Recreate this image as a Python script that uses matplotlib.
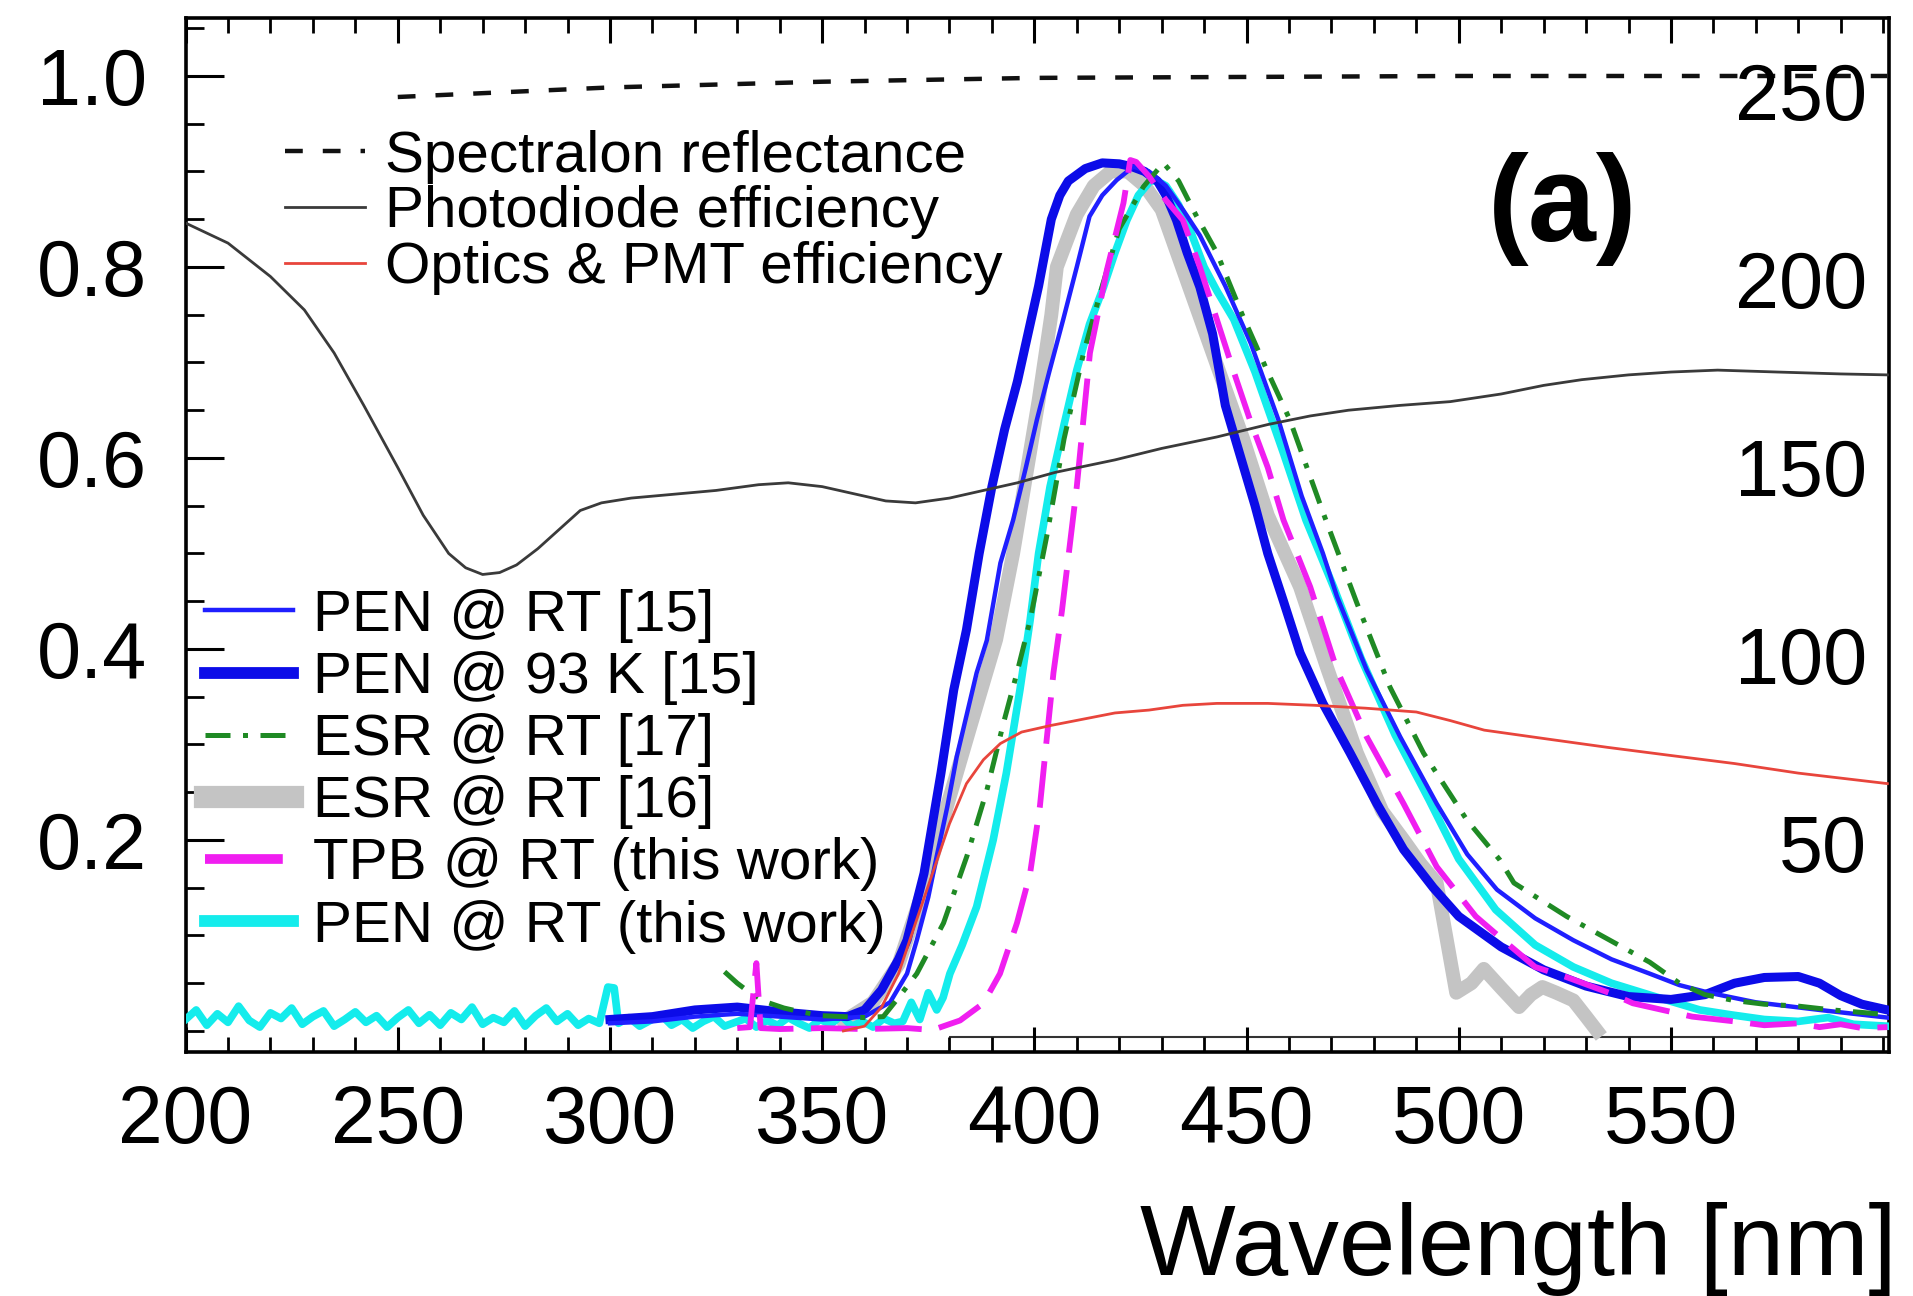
import matplotlib
matplotlib.use("Agg")
import matplotlib.pyplot as plt
from matplotlib.ticker import FixedLocator, MultipleLocator

plt.rcParams['font.family'] = ['Liberation Sans', 'DejaVu Sans']

# ---- reference curves ----
spectralon_wl = [250, 275, 300, 325, 350, 375, 400, 450, 500, 550, 601]
spectralon = [0.978, 0.983, 0.988, 0.991, 0.994, 0.996, 0.998, 0.999, 1.0, 1.0, 1.0]

photodiode_wl = [200, 210, 220, 228, 235, 242, 250, 256, 262, 266, 270, 274, 278,
                 283, 288, 293, 298, 305, 315, 325, 335, 342, 350, 358, 365, 372,
                 380, 390, 396, 405, 419, 430, 443, 455, 465, 474, 486, 498, 510,
                 520, 529, 540, 550, 561, 575, 590, 601]
photodiode = [0.846, 0.825, 0.79, 0.755, 0.71, 0.655, 0.59, 0.54, 0.50, 0.485, 0.478,
              0.48, 0.488, 0.505, 0.525, 0.545, 0.553, 0.558, 0.562, 0.566, 0.572,
              0.574, 0.57, 0.562, 0.555, 0.553, 0.558, 0.568, 0.574, 0.585, 0.598,
              0.61, 0.622, 0.635, 0.644, 0.65, 0.655, 0.659, 0.667, 0.676, 0.682,
              0.687, 0.69, 0.692, 0.69, 0.688, 0.687]

optics_wl = [355, 360, 364, 368, 372, 376, 380, 384, 388, 392, 397, 404, 419, 427,
             435, 443, 455, 466, 478, 490, 498, 506, 514, 522, 535, 549, 565, 580, 601]
optics = [0.0, 0.005, 0.025, 0.06, 0.113, 0.165, 0.217, 0.259, 0.284, 0.301, 0.313,
          0.32, 0.333, 0.336, 0.341, 0.343, 0.343, 0.341, 0.338, 0.334, 0.325, 0.315,
          0.31, 0.305, 0.297, 0.289, 0.28, 0.27, 0.259]

# ---- emission spectra ----
pen_rt15_wl = [300, 310, 320, 330, 340, 350, 360, 366, 370, 372.3, 375, 377, 379.5,
               381.7, 384, 386.4, 388.8, 392, 395, 398, 400.6, 403.5, 406.8, 410, 413,
               416, 419.4, 423.3, 427, 431, 435, 439, 445, 451, 457.5, 463, 468, 471.3,
               478.3, 486.2, 494.8, 502, 509, 518, 527, 536, 545, 552, 559, 570, 585, 601]
pen_rt15 = [0.008, 0.01, 0.015, 0.018, 0.015, 0.012, 0.015, 0.03, 0.06, 0.095, 0.14,
            0.183, 0.235, 0.287, 0.33, 0.375, 0.409, 0.49, 0.535, 0.59, 0.64, 0.69,
            0.745, 0.80, 0.853, 0.875, 0.891, 0.905, 0.90, 0.885, 0.86, 0.833, 0.78,
            0.72, 0.64, 0.56, 0.50, 0.455, 0.378, 0.308, 0.238, 0.185, 0.148, 0.118,
            0.095, 0.075, 0.06, 0.048, 0.04, 0.03, 0.022, 0.014]

pen_93k_wl = [300, 310, 320, 330, 340, 350, 356, 360, 364, 368, 370, 374, 378, 381,
              384, 387, 390, 393, 396, 398, 401, 404, 406, 408, 412, 416, 420, 423,
              426, 429, 431, 433.5, 436, 439, 442, 445, 452, 455, 458.7, 462.6, 468,
              474.4, 480.7, 487, 494, 500, 510, 520, 530, 540, 550, 558, 565, 572,
              580, 585, 590, 595, 601]
pen_93k = [0.012, 0.015, 0.022, 0.025, 0.02, 0.016, 0.015, 0.022, 0.043, 0.075, 0.095,
           0.165, 0.27, 0.357, 0.42, 0.50, 0.57, 0.63, 0.68, 0.72, 0.78, 0.85, 0.875,
           0.89, 0.903, 0.909, 0.908, 0.905, 0.90, 0.89, 0.875, 0.849, 0.815, 0.779,
           0.73, 0.655, 0.55, 0.50, 0.45, 0.396, 0.343, 0.291, 0.238, 0.19, 0.15, 0.12,
           0.088, 0.064, 0.047, 0.036, 0.033, 0.038, 0.05, 0.056, 0.057, 0.05, 0.037,
           0.028, 0.022]

esr17_wl = [327, 330, 333, 337, 341, 345, 350, 355, 360, 364.4, 368, 372.3, 378.6,
            384.1, 388.8, 392.7, 395.9, 399, 403, 407, 411.6, 416, 420, 425.7, 430.4,
            434, 438, 443, 449, 454.8, 460.2, 468.1, 476, 483.8, 491.7, 501.9, 509.7,
            513, 525.4, 545, 552, 558, 564.7, 572, 580, 588, 596, 601]
esr17 = [0.062, 0.05, 0.04, 0.03, 0.024, 0.02, 0.016, 0.015, 0.014, 0.015, 0.035, 0.06,
         0.113, 0.183, 0.252, 0.322, 0.375, 0.43, 0.52, 0.62, 0.71, 0.78, 0.84, 0.884,
         0.909, 0.89, 0.855, 0.815, 0.75, 0.692, 0.64, 0.542, 0.448, 0.36, 0.291, 0.221,
         0.179, 0.155, 0.12, 0.072, 0.05, 0.038, 0.032, 0.028, 0.026, 0.022, 0.019, 0.017]

esr16_wl = [355, 362, 368, 374, 379.4, 385, 391, 395, 398, 401, 404, 405.3, 407, 410,
            414, 418, 422, 426, 430, 434, 438, 442, 446, 449.2, 455, 462.6, 469, 476,
            482, 487, 491, 494.8, 497, 499.4, 503, 505.9, 510, 514.2, 517, 519.7, 523,
            527, 530, 532.6]
esr16 = [0.01, 0.03, 0.07, 0.15, 0.235, 0.32, 0.41, 0.50, 0.58, 0.66, 0.75, 0.80, 0.82,
         0.855, 0.885, 0.90, 0.90, 0.885, 0.86, 0.81, 0.76, 0.71, 0.66, 0.62, 0.54,
         0.465, 0.38, 0.291, 0.23, 0.2, 0.175, 0.155, 0.1, 0.04, 0.05, 0.065, 0.045,
         0.025, 0.038, 0.046, 0.04, 0.032, 0.015, 0.0]

tpb_wl = [330, 333, 334.5, 335.5, 340, 350, 360, 370, 376, 382.5, 388, 391.9, 395.9,
          399, 401.3, 402.9, 404.5, 406.5, 410, 413.1, 417.1, 421, 422.6, 424, 427,
          431, 435, 439, 443, 447, 450.8, 455, 458.7, 465, 471.3, 478.3, 487, 494.8,
          504, 510, 518, 525, 536, 541, 555, 565, 572, 580, 585, 590, 595, 601]
tpb = [0.003, 0.004, 0.071, 0.003, 0.002, 0.003, 0.002, 0.003, 0.001, 0.011, 0.029,
       0.06, 0.113, 0.165, 0.235, 0.305, 0.375, 0.44, 0.57, 0.71, 0.797, 0.867, 0.912,
       0.91, 0.895, 0.87, 0.849, 0.80, 0.745, 0.69, 0.64, 0.59, 0.535, 0.465, 0.378,
       0.308, 0.238, 0.172, 0.12, 0.097, 0.067, 0.057, 0.039, 0.029, 0.015, 0.01, 0.006,
       0.008, 0.004, 0.007, 0.003, 0.004]

pen_this_wl = [200, 202.5, 205, 207.5, 210, 212.5, 215, 217.5, 220, 222.5, 225, 227.5,
               230, 232.5, 235, 237.5, 240, 242.5, 245, 247.5, 250, 252.5, 255, 257.5,
               260, 262.5, 265, 267.5, 270, 272.5, 275, 277.5, 280, 282.5, 285, 287.5,
               290, 292.5, 295, 297.5, 299.5, 301, 302, 304.5, 307, 309.5, 312, 314.5,
               317, 319.5, 322, 324.5, 327, 329.5, 332, 334.5, 337, 339.5, 342, 344.5,
               347, 349.5, 352, 354.5, 357, 359.5, 362, 364.5, 367, 369, 371, 373, 375,
               377, 378.5, 380.1, 383, 386.4, 390.3,
               393.4, 396.6, 399, 401, 403.7, 407, 410, 413, 416.3, 419, 421.8, 424.5,
               427.3, 429, 431, 434, 437, 440, 443, 447, 452, 458.7, 464, 470.5, 477,
               485, 493, 500, 508.7, 518, 527, 536, 545.5, 556.8, 564, 572, 580, 587,
               593, 601]
pen_this = [0.012, 0.022, 0.006, 0.018, 0.009, 0.026, 0.011, 0.004, 0.019, 0.013, 0.024,
            0.007, 0.015, 0.021, 0.005, 0.012, 0.02, 0.009, 0.016, 0.004, 0.014, 0.022,
            0.008, 0.017, 0.006, 0.019, 0.012, 0.025, 0.007, 0.014, 0.009, 0.021, 0.005,
            0.016, 0.024, 0.01, 0.018, 0.006, 0.013, 0.008, 0.046, 0.045, 0.008, 0.014,
            0.005, 0.011, 0.017, 0.006, 0.012, 0.003, 0.01, 0.015, 0.005, 0.009, 0.013,
            0.004, 0.011, 0.006, 0.014, 0.008, 0.003, 0.012, 0.007, 0.016, 0.005, 0.01,
            0.004, 0.013, 0.008, 0.01, 0.03, 0.012, 0.04, 0.022, 0.035, 0.06, 0.09, 0.13,
            0.2, 0.27, 0.357, 0.43, 0.50, 0.57, 0.635, 0.692, 0.74, 0.779, 0.815, 0.849,
            0.875, 0.89, 0.89, 0.885, 0.865, 0.835, 0.80, 0.775, 0.745, 0.69, 0.605,
            0.535, 0.465, 0.39, 0.31, 0.242, 0.18, 0.127, 0.09, 0.067, 0.05, 0.037,
            0.022, 0.017, 0.012, 0.01, 0.014, 0.007, 0.005]

x_ticks = [200, 250, 300, 350, 400, 450, 500, 550]
y_ticks = [0.2, 0.4, 0.6, 0.8, 1.0]
right_ticks = [50, 100, 150, 200, 250]
RIGHT_SCALE = 254.0   # right-axis units per left-axis unit
XLIM = (200, 601.4)
YLIM = (-0.022, 1.0607)

fig = plt.figure(figsize=(19.13, 12.96), dpi=100)
ax = fig.add_axes([0.0970, 0.1883, 0.8905, 0.7978])
ax.set_xlim(*XLIM)
ax.set_ylim(*YLIM)

# emission spectra
l_esr16, = ax.plot(esr16_wl, esr16, color='#c4c4c4', lw=10, solid_joinstyle='round',
                   label='ESR @ RT [16]', zorder=2)
l_this, = ax.plot(pen_this_wl, pen_this, color='#14ecec', lw=5.5,
                  label='PEN @ RT (this work)', zorder=3)
l_93k, = ax.plot(pen_93k_wl, pen_93k, color='#0c0ce8', lw=6.5,
                 label='PEN @ 93 K [15]', zorder=4)
l_rt15, = ax.plot(pen_rt15_wl, pen_rt15, color='#1f1fff', lw=3.2,
                  label='PEN @ RT [15]', zorder=5)
l_esr17, = ax.plot(esr17_wl, esr17, color='#1f8a24', lw=3.6, dashes=(5, 2.5, 1, 2.5),
                   label='ESR @ RT [17]', zorder=6)
l_tpb, = ax.plot(tpb_wl, tpb, color='#f01ef0', lw=4.2, dashes=(8, 3),
                 label='TPB @ RT (this work)', zorder=7)

# efficiency curves
l_spec, = ax.plot(spectralon_wl, spectralon, color='#111111', lw=3.2, dashes=(4, 4.5),
                  label='Spectralon reflectance', zorder=8)
l_pd, = ax.plot(photodiode_wl, photodiode, color='#3a3a3a', lw=2.0,
                label='Photodiode efficiency', zorder=8)
l_opt, = ax.plot(optics_wl, optics, color='#e8453c', lw=2.0,
                 label='Optics & PMT efficiency', zorder=8)

ax.hlines(-0.006, 380, XLIM[1], color='#333333', lw=1.5, zorder=1)

# ticks
ax.xaxis.set_major_locator(FixedLocator(x_ticks))
ax.xaxis.set_minor_locator(MultipleLocator(10))
ax.yaxis.set_major_locator(FixedLocator(y_ticks))
ax.yaxis.set_minor_locator(MultipleLocator(0.05))
ax.set_yticklabels(['%.1f' % v for v in y_ticks])
ax.tick_params(which='both', direction='in', top=True, right=True, colors='black')
ax.tick_params(axis='x', which='major', length=18, width=2.2, labelsize=58, pad=23)
ax.tick_params(axis='x', which='minor', length=11, width=2.0)
ax.tick_params(axis='y', which='major', length=27, width=2.2, labelsize=57, pad=28)
ax.tick_params(axis='y', which='minor', length=13, width=2.0)
for sp in ax.spines.values():
    sp.set_linewidth(2.6)

# right axis labels drawn inside the frame
ax2 = ax.twinx()
ax2.set_ylim(YLIM[0] * RIGHT_SCALE, YLIM[1] * RIGHT_SCALE)
ax2.yaxis.set_major_locator(FixedLocator(right_ticks))
ax2.yaxis.set_minor_locator(FixedLocator([]))
ax2.tick_params(axis='y', length=0, labelsize=57, pad=-16)
for lbl in ax2.get_yticklabels():
    lbl.set_horizontalalignment('right')
for sp in ax2.spines.values():
    sp.set_visible(False)

# legends
leg1 = ax.legend([l_spec, l_pd, l_opt],
                 [l.get_label() for l in (l_spec, l_pd, l_opt)],
                 loc='upper left', bbox_to_anchor=(0.0584, 0.892), frameon=False,
                 fontsize=42, handlelength=1.37, handletextpad=0.34,
                 labelspacing=0.03, borderpad=0, borderaxespad=0)
ax.add_artist(leg1)
leg2_lines = [l_rt15, l_93k, l_esr17, l_esr16, l_tpb, l_this]
leg2 = ax.legend(leg2_lines, [l.get_label() for l in leg2_lines],
                 loc='upper left', bbox_to_anchor=(0.0114, 0.448), frameon=False,
                 fontsize=42, handlelength=1.51, handletextpad=0.34,
                 labelspacing=0.14, borderpad=0, borderaxespad=0)
leg2.legend_handles[3].set_linewidth(16)
leg2.legend_handles[1].set_linewidth(8.5)
leg2.legend_handles[5].set_linewidth(8.5)
leg2.legend_handles[4].set_linewidth(7)

ax.text(0.8086, 0.8156, '(a)', transform=ax.transAxes, ha='center', va='center',
        fontsize=88, fontweight='bold')
ax.text(1.0047, -0.2157, 'Wavelength [nm]', transform=ax.transAxes, ha='right',
        va='baseline', fontsize=73)

fig.savefig('out.png', dpi=100, facecolor='white')
